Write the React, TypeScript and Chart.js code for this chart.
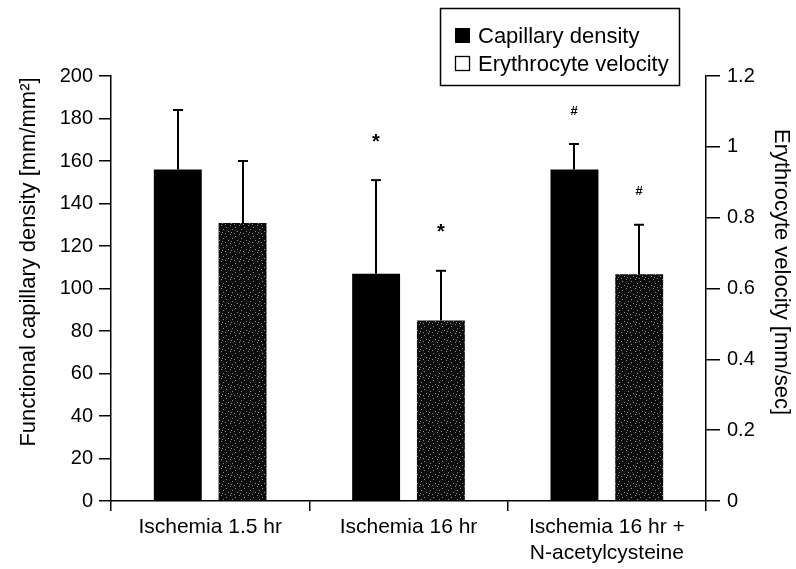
import React, { useEffect, useRef } from 'react';
import { Chart, registerables } from 'chart.js';

Chart.register(...registerables);

// Treatment groups (x categories)
const categories: string[][] = [
  ['Ischemia 1.5 hr'],
  ['Ischemia 16 hr'],
  ['Ischemia 16 hr +', 'N-acetylcysteine'],
];

// Functional capillary density [mm/mm²], mean and SD
const capillaryDensity = [156, 107, 156];
const capillaryDensitySD = [28, 44, 12];

// Erythrocyte velocity [mm/sec], mean and SD
const erythrocyteVelocity = [0.785, 0.51, 0.64];
const erythrocyteVelocitySD = [0.175, 0.14, 0.14];

// Significance marks above the error bars
const capillaryMarks = ['', '*', '#'];
const velocityMarks = ['', '*', '#'];

// Axis ranges
const densityMax = 200;
const densityStep = 20;
const velocityMax = 1.2;
const velocityStep = 0.2;

const FONT = "'Liberation Sans', Arial, Helvetica, sans-serif";

const legendItems = [
  { label: 'Capillary density', filled: true },
  { label: 'Erythrocyte velocity', filled: false },
];

function makeStipple(ctx: CanvasRenderingContext2D): CanvasPattern | string {
  const c = document.createElement('canvas');
  c.width = 9;
  c.height = 9;
  const p = c.getContext('2d');
  if (!p) return '#151515';
  p.fillStyle = '#0c0c0c';
  p.fillRect(0, 0, 9, 9);
  p.fillStyle = '#8a8a8a';
  const dots = [
    [1, 2], [5, 0], [7, 4], [3, 6], [0, 8], [6, 7],
  ];
  dots.forEach(([x, y]) => p.fillRect(x, y, 1, 1));
  return ctx.createPattern(c, 'repeat') || '#151515';
}

const overlayPlugin = {
  id: 'overlay',
  afterDatasetsDraw(chart: any) {
    const ctx: CanvasRenderingContext2D = chart.ctx;
    const sets = [
      { idx: 0, axis: 'y', mean: capillaryDensity, sd: capillaryDensitySD, marks: capillaryMarks },
      { idx: 1, axis: 'y1', mean: erythrocyteVelocity, sd: erythrocyteVelocitySD, marks: velocityMarks },
    ];
    ctx.save();
    ctx.strokeStyle = '#000';
    ctx.fillStyle = '#000';
    sets.forEach((s) => {
      const meta = chart.getDatasetMeta(s.idx);
      const scale = chart.scales[s.axis];
      meta.data.forEach((bar: any, j: number) => {
        const x = Math.round(bar.x);
        const yTop = scale.getPixelForValue(s.mean[j] + s.sd[j]);
        ctx.lineWidth = 2;
        ctx.beginPath();
        ctx.moveTo(x, bar.y);
        ctx.lineTo(x, yTop);
        ctx.stroke();
        ctx.beginPath();
        ctx.moveTo(x - 5, yTop);
        ctx.lineTo(x + 5, yTop);
        ctx.stroke();
        const m = s.marks[j];
        if (m) {
          ctx.textAlign = 'center';
          ctx.textBaseline = 'middle';
          ctx.font = m === '*' ? `bold 20px ${FONT}` : `bold 13px ${FONT}`;
          ctx.fillText(m, x, yTop - (m === '*' ? 38 : 33));
        }
      });
    });
    ctx.restore();
  },
  afterDraw(chart: any) {
    const ctx: CanvasRenderingContext2D = chart.ctx;
    ctx.save();
    ctx.fillStyle = '#000';
    ctx.strokeStyle = '#000';

    // axis titles
    ctx.font = `22px ${FONT}`;
    ctx.textAlign = 'center';
    ctx.textBaseline = 'middle';
    ctx.save();
    ctx.translate(29, 262);
    ctx.rotate(-Math.PI / 2);
    ctx.fillText('Functional capillary density [mm/mm²]', 0, 0);
    ctx.restore();
    ctx.save();
    ctx.translate(781, 272);
    ctx.rotate(Math.PI / 2);
    ctx.fillText('Erythrocyte velocity [mm/sec]', 0, 0);
    ctx.restore();

    // legend box
    ctx.lineWidth = 1.5;
    ctx.strokeRect(440.5, 8.5, 239, 77);
    ctx.font = `22px ${FONT}`;
    ctx.textAlign = 'left';
    ctx.textBaseline = 'alphabetic';
    legendItems.forEach((it, i) => {
      const base = 43 + i * 28;
      if (it.filled) {
        ctx.fillRect(455, base - 15, 15, 15);
      } else {
        ctx.lineWidth = 1.3;
        ctx.strokeRect(455.5, base - 14.5, 14, 14);
      }
      ctx.fillText(it.label, 478, base);
    });
    ctx.restore();
  },
};

export default function App() {
  const canvasRef = useRef<HTMLCanvasElement | null>(null);

  useEffect(() => {
    const canvas = canvasRef.current;
    if (!canvas) return;
    const ctx = canvas.getContext('2d');
    if (!ctx) return;
    const stipple = makeStipple(ctx);

    const chart = new Chart(canvas, {
      type: 'bar',
      data: {
        labels: categories,
        datasets: [
          {
            label: 'Capillary density',
            data: capillaryDensity,
            yAxisID: 'y',
            backgroundColor: '#000',
            borderWidth: 0,
            categoryPercentage: 0.653,
            barPercentage: 0.74,
          },
          {
            label: 'Erythrocyte velocity',
            data: erythrocyteVelocity,
            yAxisID: 'y1',
            backgroundColor: stipple as any,
            borderWidth: 0,
            categoryPercentage: 0.653,
            barPercentage: 0.74,
          },
        ],
      },
      options: {
        responsive: false,
        animation: false,
        layout: { padding: { top: 76, left: 0, right: 0, bottom: 0 } },
        plugins: {
          legend: { display: false },
          tooltip: { enabled: false },
          title: { display: false },
        },
        scales: {
          x: {
            offset: true,
            grid: {
              offset: true,
              drawOnChartArea: false,
              drawTicks: true,
              tickLength: 10,
              color: '#000',
              lineWidth: 1.5,
            },
            border: { display: true, color: '#000', width: 1.5 },
            ticks: {
              color: '#000',
              padding: 3,
              font: { family: FONT, size: 21, lineHeight: 1.25 },
              maxRotation: 0,
            },
            afterFit: (s: any) => {
              s.height = 68;
            },
          },
          y: {
            position: 'left',
            min: 0,
            max: densityMax,
            ticks: {
              stepSize: densityStep,
              color: '#000',
              padding: 6,
              font: { family: FONT, size: 20 },
            },
            grid: {
              drawOnChartArea: false,
              tickLength: 12,
              color: '#000',
              lineWidth: 1.5,
            },
            border: { display: true, color: '#000', width: 1.5 },
            afterFit: (s: any) => {
              s.width = 111;
            },
          },
          y1: {
            position: 'right',
            min: 0,
            max: velocityMax,
            ticks: {
              stepSize: velocityStep,
              color: '#000',
              padding: 7,
              font: { family: FONT, size: 20 },
              callback: (v: any) => String(+Number(v).toFixed(1)),
            },
            grid: {
              drawOnChartArea: false,
              tickLength: 14,
              color: '#000',
              lineWidth: 1.5,
            },
            border: { display: true, color: '#000', width: 1.5 },
            afterFit: (s: any) => {
              s.width = 90;
            },
          },
        },
      },
      plugins: [overlayPlugin],
    });

    return () => chart.destroy();
  }, []);

  return (
    <div style={{ position: 'fixed', left: 0, top: 0, width: 796, height: 569, background: '#fff' }}>
      <canvas ref={canvasRef} width={796} height={569} style={{ display: 'block' }} />
    </div>
  );
}
